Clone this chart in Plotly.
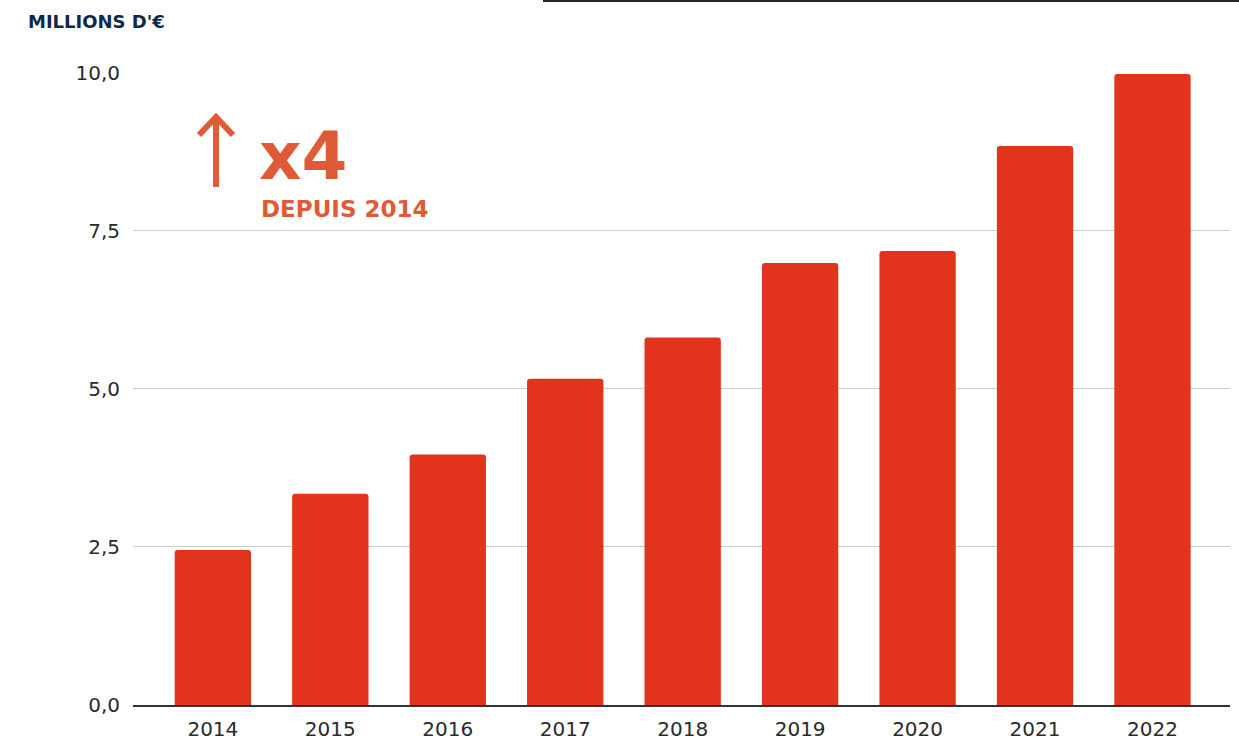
import plotly.graph_objects as go

years = ["2014", "2015", "2016", "2017", "2018", "2019", "2020", "2021", "2022"]
values = [2.45, 3.34, 3.96, 5.16, 5.81, 6.99, 7.18, 8.84, 9.98]
y_ticks = [0, 2.5, 5, 7.5, 10]

W, H = 1239, 741
L, R, T, B = 133, 9, 72, 36
PW, PH = W - L - R, H - T - B

ORANGE = "#df5a36"
RED = "#e2341d"
NAVY = "#10284a"


def px(x):
    return (x - L) / PW


def py(y):
    return (H - B - y) / PH


fig = go.Figure(go.Bar(x=years, y=values, marker_color=RED, marker_line_width=0))

fig.update_layout(
    width=W, height=H,
    margin=dict(l=L, r=R, t=T, b=B, pad=0),
    plot_bgcolor="white", paper_bgcolor="white",
    bargap=0.35,
    barcornerradius=3,
    separators=", ",
    showlegend=False,
    font=dict(family="DejaVu Sans", color="#2a2a2a", size=20),
    title=dict(text="MILLIONS D'€", x=28 / W, xanchor="left", y=1 - 22 / H, yanchor="middle",
               font=dict(family="DejaVu Sans", size=18, weight="bold", color=NAVY)),
)

fig.update_xaxes(type="category", range=[-0.68, 8.66], showgrid=False, automargin=False,
                 showline=True, linecolor="#333333", linewidth=1.5,
                 ticks="", ticklabelstandoff=5, tickfont=dict(size=20))
fig.update_yaxes(range=[0, 10.01], tickvals=y_ticks, tickformat=".1f", automargin=False,
                 showgrid=True, gridcolor="#cccccc", gridwidth=1, zeroline=False,
                 ticks="", ticklabelstandoff=12, tickfont=dict(size=20))

# x4 badge
fig.add_annotation(xref="paper", yref="paper", x=px(257), y=py(156), xanchor="left", yanchor="middle",
                   text="<b>x4</b>", showarrow=False,
                   font=dict(family="DejaVu Sans", size=66, color=ORANGE))
fig.add_annotation(xref="paper", yref="paper", x=px(259), y=py(209), xanchor="left", yanchor="middle",
                   text="<b>DEPUIS 2014</b>", showarrow=False,
                   font=dict(family="DejaVu Sans", size=23, color=ORANGE))

arrow = (f"M {px(216)} {py(187)} L {px(216)} {py(117)} "
         f"M {px(199)} {py(135)} L {px(216)} {py(117)} L {px(233)} {py(135)}")
fig.add_shape(type="path", xref="paper", yref="paper", path=arrow,
              line=dict(color=ORANGE, width=6))

# top rule
fig.add_shape(type="line", xref="paper", yref="paper",
              x0=px(543), x1=px(1239), y0=py(1), y1=py(1),
              line=dict(color="#222222", width=2))

fig.write_html("out.html", config={"displayModeBar": False},
               post_script="document.body.style.margin='0';")
